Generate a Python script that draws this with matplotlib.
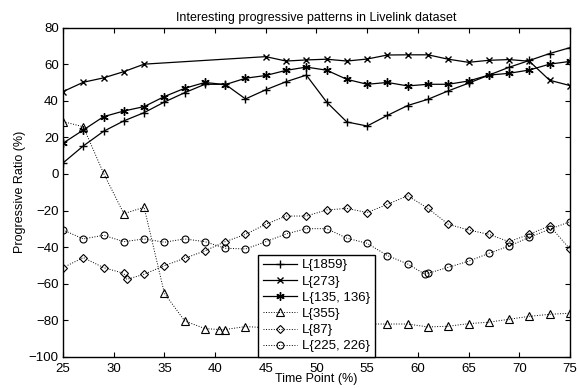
import numpy as np
import matplotlib
matplotlib.use('Agg')
import matplotlib.pyplot as plt

plt.rcParams['font.family'] = ['Liberation Sans', 'DejaVu Sans']

# L{1859}
x_1859 = [25, 27, 29, 31, 33, 35, 37, 39, 41, 43, 45, 47, 49, 51, 53, 55, 57, 59, 61, 63, 65, 67, 69, 71, 73, 75]
y_1859 = [6, 15.3, 23.3, 29, 33.5, 39.3, 44.4, 49, 49, 41, 46, 50.4, 54, 39.3, 28.4, 26.2, 32, 37.4, 40.8, 45.4, 49.6, 54, 58.3, 62, 65.8, 69]

# L{273}
x_273 = [25, 27, 29, 31, 33, 45, 47, 49, 51, 53, 55, 57, 59, 61, 63, 65, 67, 69, 71, 73, 75]
y_273 = [45, 50.1, 52.5, 55.9, 60, 64.1, 61.7, 62.3, 62.7, 61.7, 62.8, 65, 65.1, 65.1, 62.7, 61, 62.1, 62.5, 61.6, 51.2, 48.3]

# L{135, 136}
x_135 = [25, 27, 29, 31, 33, 35, 37, 39, 41, 43, 45, 47, 49, 51, 53, 55, 57, 59, 61, 63, 65, 67, 69, 71, 73, 75]
y_135 = [16.8, 24, 31.3, 34.4, 36.8, 42.3, 46.8, 50, 48.8, 52.3, 53.8, 56.6, 58.4, 56.7, 51.7, 49, 50, 48.1, 49, 49, 50.8, 54, 55, 56.8, 60, 61.5]

# L{355}
x_355 = [25, 27, 29, 31, 33, 35, 37, 39, 40.4, 41, 43, 45, 47, 49, 51, 53, 55, 57, 59, 61, 63, 65, 67, 69, 71, 73, 75]
y_355 = [28.6, 25.8, 0.4, -21.7, -18.2, -65.2, -80.3, -84.5, -85, -85, -83.4, -84, -83, -83, -82.5, -82, -82, -82, -82, -83.6, -83.2, -81.8, -81, -79.4, -77.8, -76.7, -76.1]

# L{87}
x_87 = [25, 27, 29, 31, 31.3, 33, 35, 37, 39, 41, 43, 45, 47, 49, 51, 53, 55, 57, 59, 61, 63, 65, 67, 69, 71, 73, 75]
y_87 = [-51.2, -45.7, -51.2, -54.3, -57.6, -54.8, -50.1, -46.1, -42, -37, -33, -27.5, -23, -23, -19.7, -18.8, -21.1, -16.6, -11.9, -18.8, -27.5, -30.6, -33, -37, -33, -28.3, -41]

# L{225, 226}
x_225 = [25, 27, 29, 31, 33, 35, 37, 39, 41, 43, 45, 47, 49, 51, 53, 55, 57, 59, 60.7, 61, 63, 65, 67, 69, 71, 73, 75]
y_225 = [-30.6, -35.5, -33.5, -37, -35.5, -37.3, -35.5, -37, -40.6, -41, -37, -32.8, -29.9, -29.9, -35.1, -37.9, -44.6, -49.2, -54.8, -54.3, -51, -47.7, -43.4, -39.4, -34.6, -30.2, -26.1]

fig = plt.figure(figsize=(5.78, 3.88), dpi=100)
ax = fig.add_axes([0.109, 0.080, 0.877, 0.849])

asterisk = (6, 2, 0)
ax.plot(x_1859, y_1859, 'k-', marker='+', markersize=6, linewidth=0.9, label='L{1859}')
ax.plot(x_273, y_273, 'k-', marker='x', markersize=4, linewidth=0.9, label='L{273}')
ax.plot(x_135, y_135, 'k-', marker=asterisk, markersize=6, linewidth=0.9, label='L{135, 136}')
ax.plot(x_355, y_355, 'k:', marker='^', markersize=5.5, mfc='none', mew=0.8, linewidth=0.7, label='L{355}')
ax.plot(x_87, y_87, 'k:', marker='D', markersize=4, mfc='none', mew=0.8, linewidth=0.7, label='L{87}')
ax.plot(x_225, y_225, 'k:', marker='o', markersize=5, mfc='none', mew=0.8, linewidth=0.7, label='L{225, 226}')

ax.set_xlim(25, 75)
ax.set_ylim(-100, 80)
ax.set_xticks(np.arange(25, 76, 5))
ax.set_yticks(np.arange(-100, 81, 20))
ax.tick_params(direction='in', top=True, right=True, labelsize=9.5)
ax.tick_params(axis='x', pad=4)
ax.tick_params(axis='y', pad=3)
for s in ax.spines.values():
    s.set_linewidth(1.0)

ax.set_xlabel('Time Point (%)', fontsize=9, labelpad=-1)
ax.set_ylabel('Progressive Ratio (%)', fontsize=9, labelpad=2)
ax.set_title('Interesting progressive patterns in Livelink dataset', fontsize=9, pad=5)

leg = ax.legend(loc='lower left', bbox_to_anchor=(0.385, 0.0), fontsize=9.5,
                fancybox=False, edgecolor='black', framealpha=1, borderaxespad=0,
                handlelength=2.6, borderpad=0.35, labelspacing=0.3, handletextpad=0.4)
leg.get_frame().set_linewidth(1.0)

fig.savefig('out.png', dpi=100)
